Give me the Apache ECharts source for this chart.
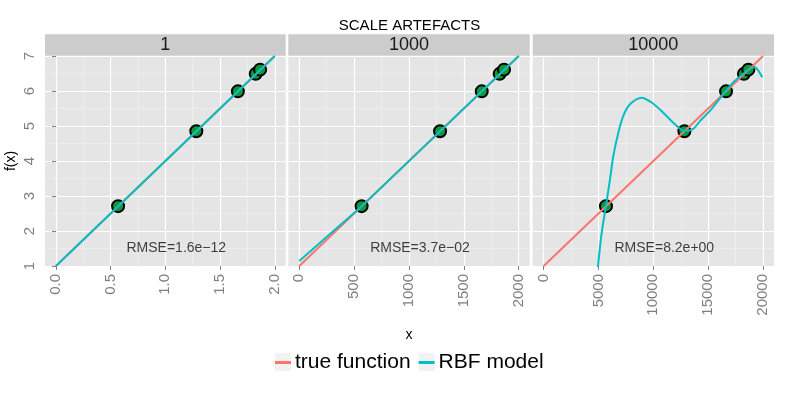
<!DOCTYPE html>
<html>
<head>
<meta charset="utf-8">
<script src="https://cdn.jsdelivr.net/npm/echarts@6/dist/echarts.min.js"></script>
<style>
  html, body { margin: 0; padding: 0; background: #fff; }
  #chart { width: 789px; height: 395px; }
</style>
</head>
<body>
<div id="chart"></div>
<script>
// facet scales and strip labels
const scales = [1, 1000, 10000];
const panelLabels = ['1', '1000', '10000'];

// tick values (unit scale)
const xTicks = [0, 0.5, 1, 1.5, 2];
const xMinor = [0.25, 0.75, 1.25, 1.75];
const yTicks = [1, 2, 3, 4, 5, 6, 7];

// sample points (x in unit scale)
const pointX = [0.568, 1.283, 1.663, 1.826, 1.866];
const pointY = [2.71, 4.85, 5.99, 6.49, 6.61];

// true function (unit scale)
const trueX = [0, 2];
const trueY = [1, 7];

// RBF model per panel
const rbf1X = [0, 2];
const rbf1Y = [1, 7];
const rbf2X = [0, 285, 570, 2000];
const rbf2Y = [1.14, 1.93, 2.71, 7.0];
const rbf3X = [4900, 4978, 5288, 5680, 6045, 6349, 6805, 7260, 7870, 8935, 9847, 10905, 11970, 12820, 13640, 14250, 15160, 15770, 16590, 17290, 18200, 18650, 19270, 19570, 19930];
const rbf3Y = [0.8, 1.08, 1.94, 2.72, 3.47, 4.14, 4.81, 5.29, 5.62, 5.81, 5.67, 5.38, 5.05, 4.86, 4.92, 5.14, 5.43, 5.67, 5.99, 6.25, 6.49, 6.61, 6.68, 6.58, 6.39];

// RMSE annotations
const rmseLabels = ['RMSE=1.6e\u221212', 'RMSE=3.7e\u221202', 'RMSE=8.2e+00'];
const rmseX = [1.1, 1100, 11000];
const rmseY = 1.5;

const FONT = 'Liberation Sans, Arial, Helvetica, sans-serif';
const RED = '#F8766D';
const CYAN = '#00BFC4';

const zip = (xs, ys) => xs.map((x, i) => [x, ys[i]]);
const rbfX = [rbf1X, rbf2X, rbf3X];
const rbfY = [rbf1Y, rbf2Y, rbf3Y];

const panels = [
    { left: 45, width: 240.7 },
    { left: 288.3, width: 241.4 },
    { left: 532.7, width: 241.3 }
];
const gridTop = 56, gridHeight = 210;

const grids = [], xAxes = [], yAxes = [], series = [], graphics = [];

panels.forEach((p, i) => {
    const s = scales[i];
    grids.push({
        left: p.left, top: gridTop, width: p.width, height: gridHeight,
        show: true, backgroundColor: '#e5e5e5', borderWidth: 0,
        outerBoundsMode: 'none', containLabel: false
    });
    // main x axis
    xAxes.push({
        type: 'value', gridIndex: i, min: -0.1 * s, max: 2.1 * s,
        axisLine: { show: false },
        axisTick: { show: true, customValues: xTicks.map(v => v * s), length: 4, lineStyle: { color: '#7f7f7f' } },
        axisLabel: {
            customValues: xTicks.map(v => v * s), rotate: 90, margin: 8,
            color: '#7f7f7f', fontSize: 15, fontFamily: FONT,
            formatter: v => i === 0 ? Number(v).toFixed(1) : String(Math.round(v))
        },
        splitLine: { show: true, lineStyle: { color: '#ffffff', width: 1.2 } },
        name: i === 1 ? 'x' : '', nameLocation: 'middle', nameGap: 62,
        nameTextStyle: { color: '#000', fontSize: 14, fontFamily: FONT }
    });
    // minor x grid lines
    xAxes.push({
        type: 'value', gridIndex: i, min: -0.1 * s, max: 2.1 * s, position: 'bottom',
        axisLine: { show: false },
        axisTick: { show: false, customValues: xMinor.map(v => v * s) },
        axisLabel: { show: false },
        splitLine: { show: true, lineStyle: { color: '#f2f2f2', width: 0.6 } }
    });
    yAxes.push({
        type: 'value', gridIndex: i, min: 1, max: 7, interval: 1,
        axisLine: { show: false },
        axisTick: { show: i === 0, length: 4, lineStyle: { color: '#7f7f7f' } },
        axisLabel: { show: i === 0, rotate: 90, margin: 8, color: '#7f7f7f', fontSize: 15, fontFamily: FONT },
        splitLine: { show: true, lineStyle: { color: '#ffffff', width: 1.2 } },
        minorTick: { show: false, splitNumber: 2 },
        minorSplitLine: { show: true, lineStyle: { color: '#f2f2f2', width: 0.6 } },
        name: i === 0 ? 'f(x)' : '', nameLocation: 'middle', nameGap: 27, nameRotate: 90,
        nameTextStyle: { color: '#000', fontSize: 14, fontFamily: FONT }
    });

    series.push({
        name: 'true function', type: 'line', xAxisIndex: 2 * i, yAxisIndex: i,
        data: zip(trueX.map(v => v * s), trueY), symbol: 'none', clip: true,
        lineStyle: { color: RED, width: 2 }, itemStyle: { color: RED }
    });
    series.push({
        name: 'RBF model', type: 'line', xAxisIndex: 2 * i, yAxisIndex: i,
        data: zip(rbfX[i], rbfY[i]), symbol: 'none', clip: true, smooth: i === 2 ? 0.3 : false,
        lineStyle: { color: CYAN, width: 2 }, itemStyle: { color: CYAN }
    });
    series.push({
        name: 'points', type: 'scatter', xAxisIndex: 2 * i, yAxisIndex: i,
        data: zip(pointX.map(v => v * s), pointY), symbolSize: 12,
        itemStyle: { color: '#0a9a3a', borderColor: '#000', borderWidth: 2, opacity: 1 }
    });
    series.push({
        name: 'rmse', type: 'scatter', xAxisIndex: 2 * i, yAxisIndex: i, silent: true,
        data: [[rmseX[i], rmseY]], symbolSize: 1, itemStyle: { color: 'rgba(0,0,0,0)' },
        label: { show: true, position: 'inside', formatter: rmseLabels[i], color: '#111', fontSize: 14, fontFamily: FONT }
    });

    // facet strip
    graphics.push({
        type: 'rect', shape: { x: p.left, y: 34.3, width: p.width, height: 21.4 },
        style: { fill: '#cccccc' }, silent: true
    });
    graphics.push({
        type: 'text', x: p.left + p.width / 2, y: 45.5,
        style: { text: panelLabels[i], align: 'center', verticalAlign: 'middle', fill: '#1a1a1a', fontSize: 18, fontFamily: FONT },
        silent: true
    });
});

// legend key backgrounds
graphics.push({ type: 'rect', shape: { x: 275, y: 353, width: 16, height: 18 }, style: { fill: '#f2f2f2' }, z: -1, silent: true });
graphics.push({ type: 'rect', shape: { x: 418.6, y: 353, width: 16, height: 18 }, style: { fill: '#f2f2f2' }, z: -1, silent: true });

const chart = echarts.init(document.getElementById('chart'), null, { renderer: 'canvas' });
chart.setOption({
    animation: false,
    backgroundColor: '#ffffff',
    title: {
        text: 'SCALE ARTEFACTS', left: 409.5, top: 18, textAlign: 'center', padding: 0,
        textStyle: { color: '#000', fontSize: 15, fontWeight: 'normal', fontFamily: FONT }
    },
    legend: {
        data: ['true function', 'RBF model'], left: 275, top: 352, padding: 0,
        icon: 'rect', itemWidth: 16, itemHeight: 3, itemGap: 8,
        textStyle: { color: '#000', fontSize: 21, fontFamily: FONT, padding: [0, 0, 0, -1] }
    },
    grid: grids,
    xAxis: xAxes,
    yAxis: yAxes,
    series: series,
    graphic: graphics
});
</script>
</body>
</html>
